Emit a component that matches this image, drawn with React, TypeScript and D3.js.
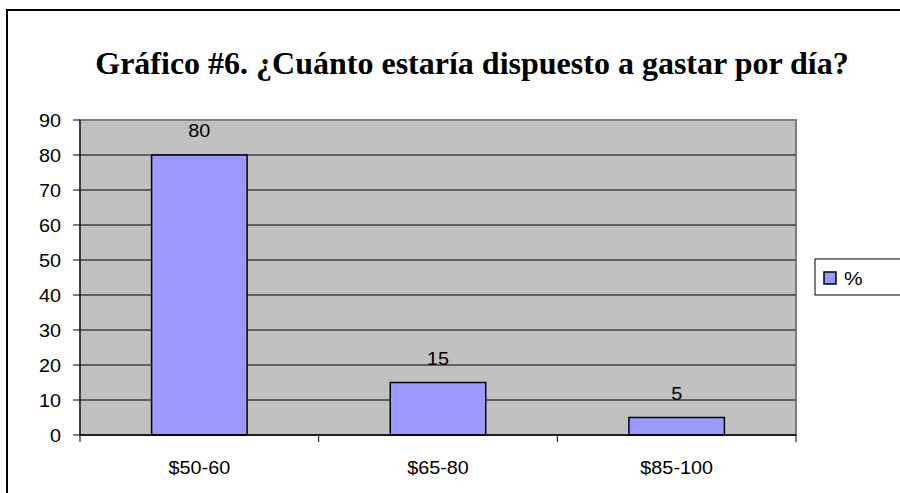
import React from "react";
import * as d3 from "d3";

const categories = ["$50-60", "$65-80", "$85-100"];
const values = [80, 15, 5];
const yTicks = [0, 10, 20, 30, 40, 50, 60, 70, 80, 90];
const title = "Gráfico #6. ¿Cuánto estaría dispuesto a gastar por día?";
const seriesName = "%";

const font = "Arial, 'Liberation Sans', sans-serif";

function T({ x, y, anchor, children, size = 18 }: { x: number; y: number; anchor?: string; children: any; size?: number }) {
  return (
    <text transform={`translate(${x},${y}) scale(1.1,1)`} textAnchor={anchor || "start"} fontFamily={font} fontSize={size}>
      {children}
    </text>
  );
}

export default function App() {
  const W = 900, H = 493;
  const left = 80, right = 796, top = 120, bottom = 435;
  const x = d3.scaleBand<string>().domain(categories).range([left, right]).paddingInner(0).paddingOuter(0);
  const y = d3.scaleLinear().domain([0, 90]).range([bottom, top]);
  const bw = x.bandwidth() * 0.4;
  const boundaries = [left, ...categories.map((c) => (x(c) as number) + x.bandwidth())];
  return (
    <svg width={W} height={H} style={{ position: "absolute", left: 0, top: 0, background: "#fff" }}>
      <rect x={7} y={10} width={1000} height={600} fill="#fff" stroke="#000" strokeWidth={2} />
      <text x={472} y={74} textAnchor="middle" fontFamily="'Liberation Serif', 'Times New Roman', serif" fontWeight="bold" fontSize={32}>{title}</text>
      <rect x={left} y={top} width={right - left} height={bottom - top} fill="#C0C0C0" stroke="#808080" strokeWidth={2} />
      {yTicks.filter((t) => t > 0 && t < 90).map((t) => (
        <line key={"g" + t} x1={left} x2={right} y1={y(t)} y2={y(t)} stroke="#404040" strokeWidth={1.3} />
      ))}
      {yTicks.map((t) => (
        <g key={"t" + t}>
          <line x1={73} x2={left} y1={y(t)} y2={y(t)} stroke="#000" strokeWidth={1} />
          <T x={61} y={y(t) + 6.5} anchor="end">{t}</T>
        </g>
      ))}
      <line x1={left} x2={left} y1={top} y2={bottom} stroke="#000" strokeWidth={1} />
      {categories.map((c, i) => {
        const cx = (x(c) as number) + x.bandwidth() / 2;
        return (
          <g key={c}>
            <rect x={cx - bw / 2} y={y(values[i])} width={bw} height={bottom - y(values[i])} fill="#9999FF" stroke="#000" strokeWidth={1.5} />
            <T x={cx} y={y(values[i]) - 18} anchor="middle">{values[i]}</T>
            <T x={cx} y={474} anchor="middle">{c}</T>
          </g>
        );
      })}
      <line x1={left} x2={right} y1={bottom} y2={bottom} stroke="#000" strokeWidth={1.3} />
      {boundaries.map((b, i) => (
        <line key={"b" + i} x1={b} x2={b} y1={bottom} y2={bottom + 7} stroke="#000" strokeWidth={1} />
      ))}
      <rect x={815} y={259} width={200} height={36} fill="#fff" stroke="#000" strokeWidth={1} />
      <rect x={824} y={272} width={12} height={12} fill="#9999FF" stroke="#000" strokeWidth={1.5} />
      <T x={844} y={285} size={19}>{seriesName}</T>
    </svg>
  );
}
